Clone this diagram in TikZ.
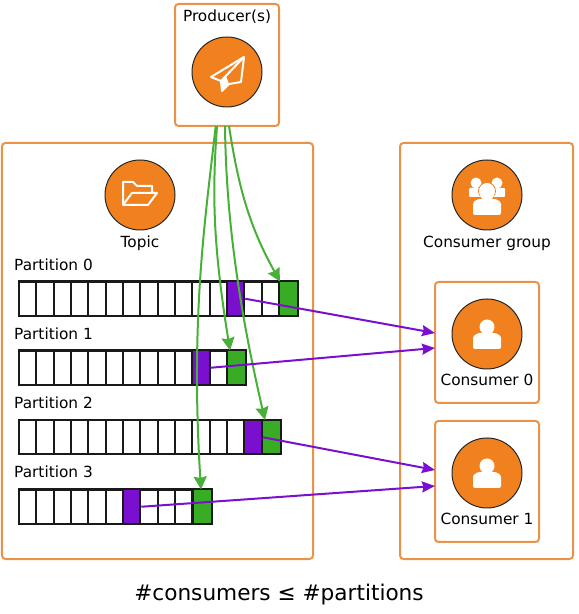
\documentclass[tikz,border=0pt]{standalone}
\usepackage{fontspec}
\setmainfont{DejaVu Sans}
\usetikzlibrary{arrows.meta}

\tikzset{
  panel/.style={draw=panelorange, line width=2bp, rounded corners=3.5bp, inner sep=0, outer sep=0},
  badge/.style={circle, draw=black!85, fill=badgeorange, line width=1bp, minimum size=70bp, inner sep=0},
  label/.style={black, font=\fontsize{15.4}{18}\selectfont, inner sep=0},
  bar/.style={black!90, line width=2bp},
  purplecell/.style={draw=black!90, line width=2bp, fill=cellpurple, minimum width=17.33bp, minimum height=34.5bp, inner sep=0, outer sep=0},
  greencell/.style={draw=black!90, line width=2bp, fill=cellgreen, minimum width=19bp, minimum height=34.5bp, inner sep=0, outer sep=0},
  produced/.style={draw=linegreen, line width=2bp, -{Stealth[length=13bp,width=13bp,inset=1.5bp]}},
  consumed/.style={draw=cellpurple, line width=2bp, -{Stealth[length=13bp,width=11bp,inset=1.5bp]}},
  icon/.style={draw=white, line width=2bp, line join=round},
  person/.pic={
    \fill[white] (0,7) circle (7.5);
    \fill[white, rounded corners=2bp] (-14,-15) -- (-14,-6) .. controls (-14,-1) and (-9,1) .. (-5,1) -- (5,1) .. controls (9,1) and (14,-1) .. (14,-6) -- (14,-15) -- cycle;
  }
}
\definecolor{panelorange}{HTML}{E9924A}
\definecolor{badgeorange}{HTML}{F0811E}
\definecolor{cellpurple}{HTML}{7A0FD0}
\definecolor{cellgreen}{HTML}{38AC24}
\definecolor{linegreen}{HTML}{46B136}

\begin{document}
\begin{tikzpicture}[x=1bp, y=1bp]
\useasboundingbox (0, 0) rectangle (579, 614);
% panels
\node[panel, minimum width=104bp, minimum height=122bp] (producer) at (227, 549){};
\node[panel, minimum width=311bp, minimum height=416bp] (topic) at (157.5, 263){};
\node[panel, minimum width=173bp, minimum height=416bp] (group) at (486.5, 263){};
\node[panel, minimum width=104bp, minimum height=121bp] (consumerzero) at (487, 271.5){};
\node[panel, minimum width=104bp, minimum height=121bp] (consumerone) at (487, 132.5){};
% badges
\node[badge] (producerbadge) at (227, 542){};
\node[badge] (topicbadge) at (140, 419){};
\node[badge] (groupbadge) at (487, 419){};
\node[badge] (zerobadge) at (487, 280){};
\node[badge] (onebadge) at (487, 141){};
% plane
\draw[icon] (244, 557) -- (211, 537) -- (221, 533) -- (222, 523) -- (229, 530) -- (241, 532) -- cycle;
\draw[icon] (244, 557) -- (221, 533);
\fill[white] (221, 533) -- (222, 523) -- (229, 530) -- (226, 538) -- cycle;
% folder
\draw[icon] (152, 422) -- (152, 428) -- (137, 428) -- (133, 432) -- (123, 432) -- (123, 409) -- (148, 409) -- (157, 421) -- (132, 421) -- (123, 409);
% people
\fill[white] (476, 431) circle (5.5);
\fill[white] (497, 431) circle (5.5);
\fill[white, rounded corners=1bp] (469, 417) rectangle (505, 426);
\draw[fill=white, draw=badgeorange, line width=0.8bp] (487, 423) circle (8.5);
\pic at (487, 414) {person};
\pic at (487, 280) {person};
\pic at (487, 141) {person};
% labels
\node[label] (producerlabel) at (227, 597){Producer(s)};
\node[label] (topiclabel) at (140, 371){Topic};
\node[label] (grouplabel) at (487, 371){Consumer group};
\node[label] (zerolabel) at (487, 234){Consumer 0};
\node[label] (onelabel) at (487, 95){Consumer 1};
\node[label, right] (partzero) at (14, 349){Partition 0};
\node[label, right] (partone) at (14, 280){Partition 1};
\node[label, right] (parttwo) at (14, 211){Partition 2};
\node[label, right] (partthree) at (14, 142){Partition 3};
\node[black, font=\fontsize{21.7}{25}\selectfont, inner sep=0] (caption) at (279, 19){\#consumers ≤ \#partitions};
% partitions
\draw[bar, shift={(19, 298)}, xstep=17.33, ystep=34.5] (0, 0) grid (279, 34.5) rectangle (0, 0);
\draw[bar, shift={(19, 229)}, xstep=17.33, ystep=34.5] (0, 0) grid (227, 34.5) rectangle (0, 0);
\draw[bar, shift={(19, 159.5)}, xstep=17.33, ystep=34.5] (0, 0) grid (262, 34.5) rectangle (0, 0);
\draw[bar, shift={(19, 90)}, xstep=17.33, ystep=34.5] (0, 0) grid (192.7, 34.5) rectangle (0, 0);
\node[purplecell] (purplezero) at (235.6, 315.25){};
\node[greencell] (greenzero) at (288.5, 315.25){};
\node[purplecell] (purpleone) at (201, 246.25){};
\node[greencell] (greenone) at (236.5, 246.25){};
\node[purplecell] (purpletwo) at (253, 176.75){};
\node[greencell] (greentwo) at (271.5, 176.75){};
\node[purplecell] (purplethree) at (131.6, 107.25){};
\node[greencell] (greenthree) at (202, 107.25){};
% producer to partitions
\draw[produced] ([xshift=-11.3bp]producer.south) .. controls (206, 400) and (190, 300) .. ([xshift=-1bp]greenthree.north);
\draw[produced] ([xshift=-10bp]producer.south) .. controls (212, 420) and (213, 370) .. ([xshift=3bp]greenone.north west);
\draw[produced] ([xshift=-2bp]producer.south) .. controls (226, 400) and (238, 310) .. ([xshift=3bp]greentwo.north west);
\draw[produced] ([xshift=2bp]producer.south) .. controls (238, 430) and (248, 390) .. ([xshift=1bp]greenzero.north west);
% partitions to consumers
\draw[consumed] ([xshift=1bp]purplezero.east) -- ([yshift=9.5bp]consumerzero.west);
\draw[consumed] ([xshift=1bp]purpleone.east) -- ([yshift=-5.5bp]consumerzero.west);
\draw[consumed] ([xshift=1bp]purpletwo.east) -- ([yshift=11.5bp]consumerone.west);
\draw[consumed] ([xshift=1bp]purplethree.east) -- ([yshift=-4.5bp]consumerone.west);
\end{tikzpicture}
\end{document}
